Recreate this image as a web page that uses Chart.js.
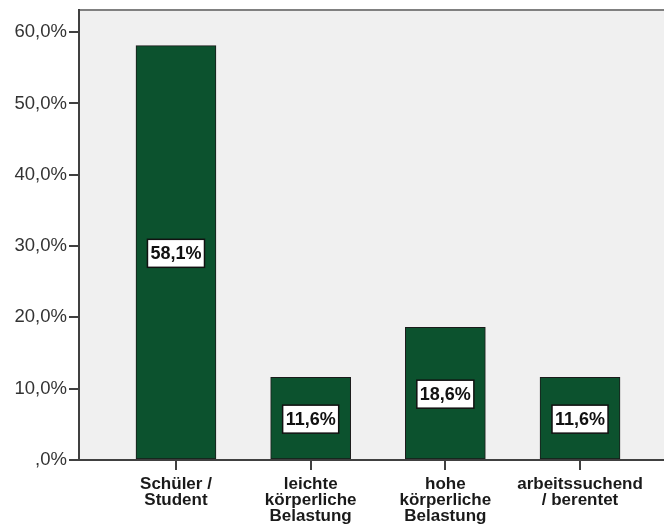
<!DOCTYPE html>
<html>
<head>
<meta charset="utf-8">
<script src="https://cdn.jsdelivr.net/npm/chart.js@4/dist/chart.umd.min.js"></script>
<style>
  html, body { margin: 0; padding: 0; background: #fff; overflow: hidden; }
  #wrap { width: 680px; height: 526px; }
</style>
</head>
<body>
<div id="wrap"><canvas id="chart" width="680" height="526"></canvas></div>
<script>
const categories = [
  ['Schüler /', 'Student'],
  ['leichte', 'körperliche', 'Belastung'],
  ['hohe', 'körperliche', 'Belastung'],
  ['arbeitssuchend', '/ berentet']
];
const shares = [58.1, 11.6, 18.6, 11.6];
const yTickValues = [0, 10, 20, 30, 40, 50, 60];

// SPSS style: comma decimal, no leading zero
function pct(v) {
  return v.toFixed(1).replace('.', ',').replace(/^0/, '') + '%';
}

const plotFrame = {
  id: 'plotFrame',
  beforeDraw(chart) {
    const { ctx, chartArea: a } = chart;
    ctx.save();
    ctx.fillStyle = '#f0f0f0';
    ctx.fillRect(a.left, a.top, a.right - a.left, a.bottom - a.top);
    ctx.strokeStyle = '#808080';
    ctx.lineWidth = 2;
    ctx.beginPath();
    ctx.moveTo(a.left, a.top);
    ctx.lineTo(a.right, a.top);
    ctx.lineTo(a.right, a.bottom);
    ctx.stroke();
    ctx.restore();
  }
};

const valueBoxes = {
  id: 'valueBoxes',
  afterDatasetsDraw(chart) {
    const { ctx } = chart;
    const meta = chart.getDatasetMeta(0);
    ctx.save();
    ctx.font = 'bold 18px "Liberation Sans", Arial, sans-serif';
    ctx.textAlign = 'center';
    ctx.textBaseline = 'middle';
    meta.data.forEach((bar, i) => {
      const text = pct(shares[i]);
      const w = ctx.measureText(text).width + 6;
      const h = 28;
      const cx = bar.x;
      const cy = (bar.y + bar.base) / 2 + 1;
      ctx.fillStyle = '#fff';
      ctx.fillRect(cx - w / 2, cy - h / 2, w, h);
      ctx.strokeStyle = '#111';
      ctx.lineWidth = 1.5;
      ctx.strokeRect(cx - w / 2, cy - h / 2, w, h);
      ctx.fillStyle = '#111';
      ctx.fillText(text, cx, cy + 1);
    });
    ctx.restore();
  }
};

new Chart(document.getElementById('chart'), {
  type: 'bar',
  data: {
    datasets: [{
      data: shares.map((v, i) => ({ x: i, y: v })),
      backgroundColor: '#0c522e',
      borderColor: '#1a1a1a',
      borderWidth: 1,
      borderSkipped: false,
      barThickness: 80
    }]
  },
  options: {
    responsive: false,
    animation: false,
    layout: { padding: { top: 10, right: 3, left: 0, bottom: 0 } },
    plugins: {
      legend: { display: false },
      tooltip: { enabled: false }
    },
    scales: {
      x: {
        type: 'linear',
        offset: false,
        min: -0.72,
        max: 3.72,
        afterBuildTicks(scale) {
          scale.ticks = categories.map((_, i) => ({ value: i }));
        },
        afterFit(scale) { scale.height = 66; },
        border: { color: '#404040', width: 2 },
        grid: { offset: false, drawOnChartArea: false, tickLength: 10, color: '#404040', lineWidth: 2 },
        ticks: {
          autoSkip: false,
          maxRotation: 0,
          padding: 6,
          color: '#1a1a1a',
          font: { family: '"Liberation Sans", Arial, sans-serif', size: 17, weight: 'bold', lineHeight: 0.95 },
          callback: v => categories[v] || ''
        }
      },
      y: {
        min: 0,
        max: 63.1,
        afterBuildTicks(scale) {
          scale.ticks = yTickValues.map(v => ({ value: v }));
        },
        afterFit(scale) {
          scale.width = 79;
          scale.paddingTop = 0;
          scale.paddingBottom = 0;
        },
        border: { color: '#404040', width: 2 },
        grid: { drawOnChartArea: false, tickLength: 10, color: '#404040', lineWidth: 2 },
        ticks: {
          padding: 2,
          color: '#333',
          font: { family: '"Liberation Sans", Arial, sans-serif', size: 18.5 },
          callback: v => pct(v)
        }
      }
    }
  },
  plugins: [plotFrame, valueBoxes]
});
</script>
</body>
</html>
